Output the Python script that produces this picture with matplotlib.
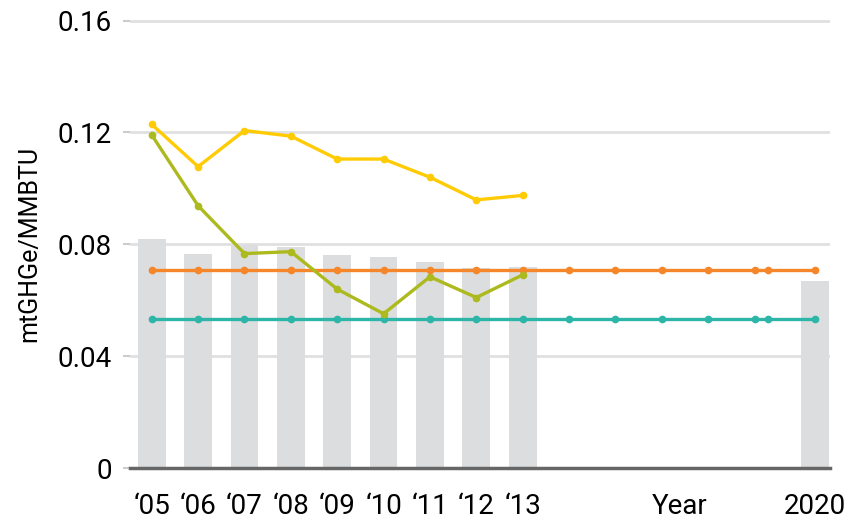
import matplotlib
matplotlib.use("Agg")
import matplotlib.pyplot as plt

plt.rcParams['font.family'] = ['Roboto', 'DejaVu Sans']

# slot positions along x (year slots, last ones unevenly spaced in the original)
bar_pos = [0, 1, 2, 3, 4, 5, 6, 7, 8, 14.3]
bar_vals = [0.0819, 0.0765, 0.0799, 0.0791, 0.0762, 0.0755, 0.0737, 0.0716, 0.0719, 0.0669]

line_pos = [0, 1, 2, 3, 4, 5, 6, 7, 8]
yellow_vals = [0.1229, 0.1078, 0.1207, 0.1187, 0.1105, 0.1105, 0.1040, 0.0959, 0.0975]
green_vals = [0.1191, 0.0938, 0.0767, 0.0774, 0.0640, 0.0552, 0.0684, 0.0610, 0.0691]

flat_pos = [0, 1, 2, 3, 4, 5, 6, 7, 8, 9, 10, 11, 12, 13, 13.3, 14.3]
orange_vals = [0.0709] * len(flat_pos)
teal_vals = [0.0533] * len(flat_pos)

tick_pos = [0, 1, 2, 3, 4, 5, 6, 7, 8, 11.38, 14.3]
tick_labels = ["\u201805", "\u201806", "\u201807", "\u201808", "\u201809",
               "\u201810", "\u201811", "\u201812", "\u201813", "Year", "2020"]
y_ticks = [0, 0.04, 0.08, 0.12, 0.16]
y_labels = ["0", "0.04", "0.08", "0.12", "0.16"]

fig = plt.figure(figsize=(8.45, 5.19), dpi=100)
ax = fig.add_axes([0.1538, 0.098, 0.828, 0.865])

ax.bar(bar_pos, bar_vals, width=0.6, color='#dcdddf', zorder=2)

ax.plot(flat_pos, teal_vals, color='#2db5a8', lw=2.4, marker='o', ms=4.5, zorder=3)
ax.plot(flat_pos, orange_vals, color='#f5862a', lw=2.4, marker='o', ms=4.5, zorder=3)
ax.plot(line_pos, green_vals, color='#acba1e', lw=2.4, marker='o', ms=4.5, zorder=4)
ax.plot(line_pos, yellow_vals, color='#ffcb05', lw=2.4, marker='o', ms=4.5, zorder=4)

ax.set_xlim(-0.47, 14.62)
ax.set_ylim(0, 0.1605)

ax.set_yticks(y_ticks)
ax.set_yticklabels(y_labels, fontsize=20)
ax.yaxis.grid(True, color='#e0e0e0', lw=2)
ax.set_axisbelow(True)
ax.tick_params(axis='y', length=5, width=1.5, color='#cccccc', pad=8)

ax.set_xticks(tick_pos)
ax.set_xticklabels(tick_labels, fontsize=20)
ax.tick_params(axis='x', length=0, pad=18)

for s in ['top', 'right', 'left']:
    ax.spines[s].set_visible(False)
ax.spines['bottom'].set_color('#666666')
ax.spines['bottom'].set_linewidth(2.5)

ax.set_ylabel("mtGHGe/MMBTU", fontsize=18, labelpad=12)

fig.savefig("out.png", dpi=100)
